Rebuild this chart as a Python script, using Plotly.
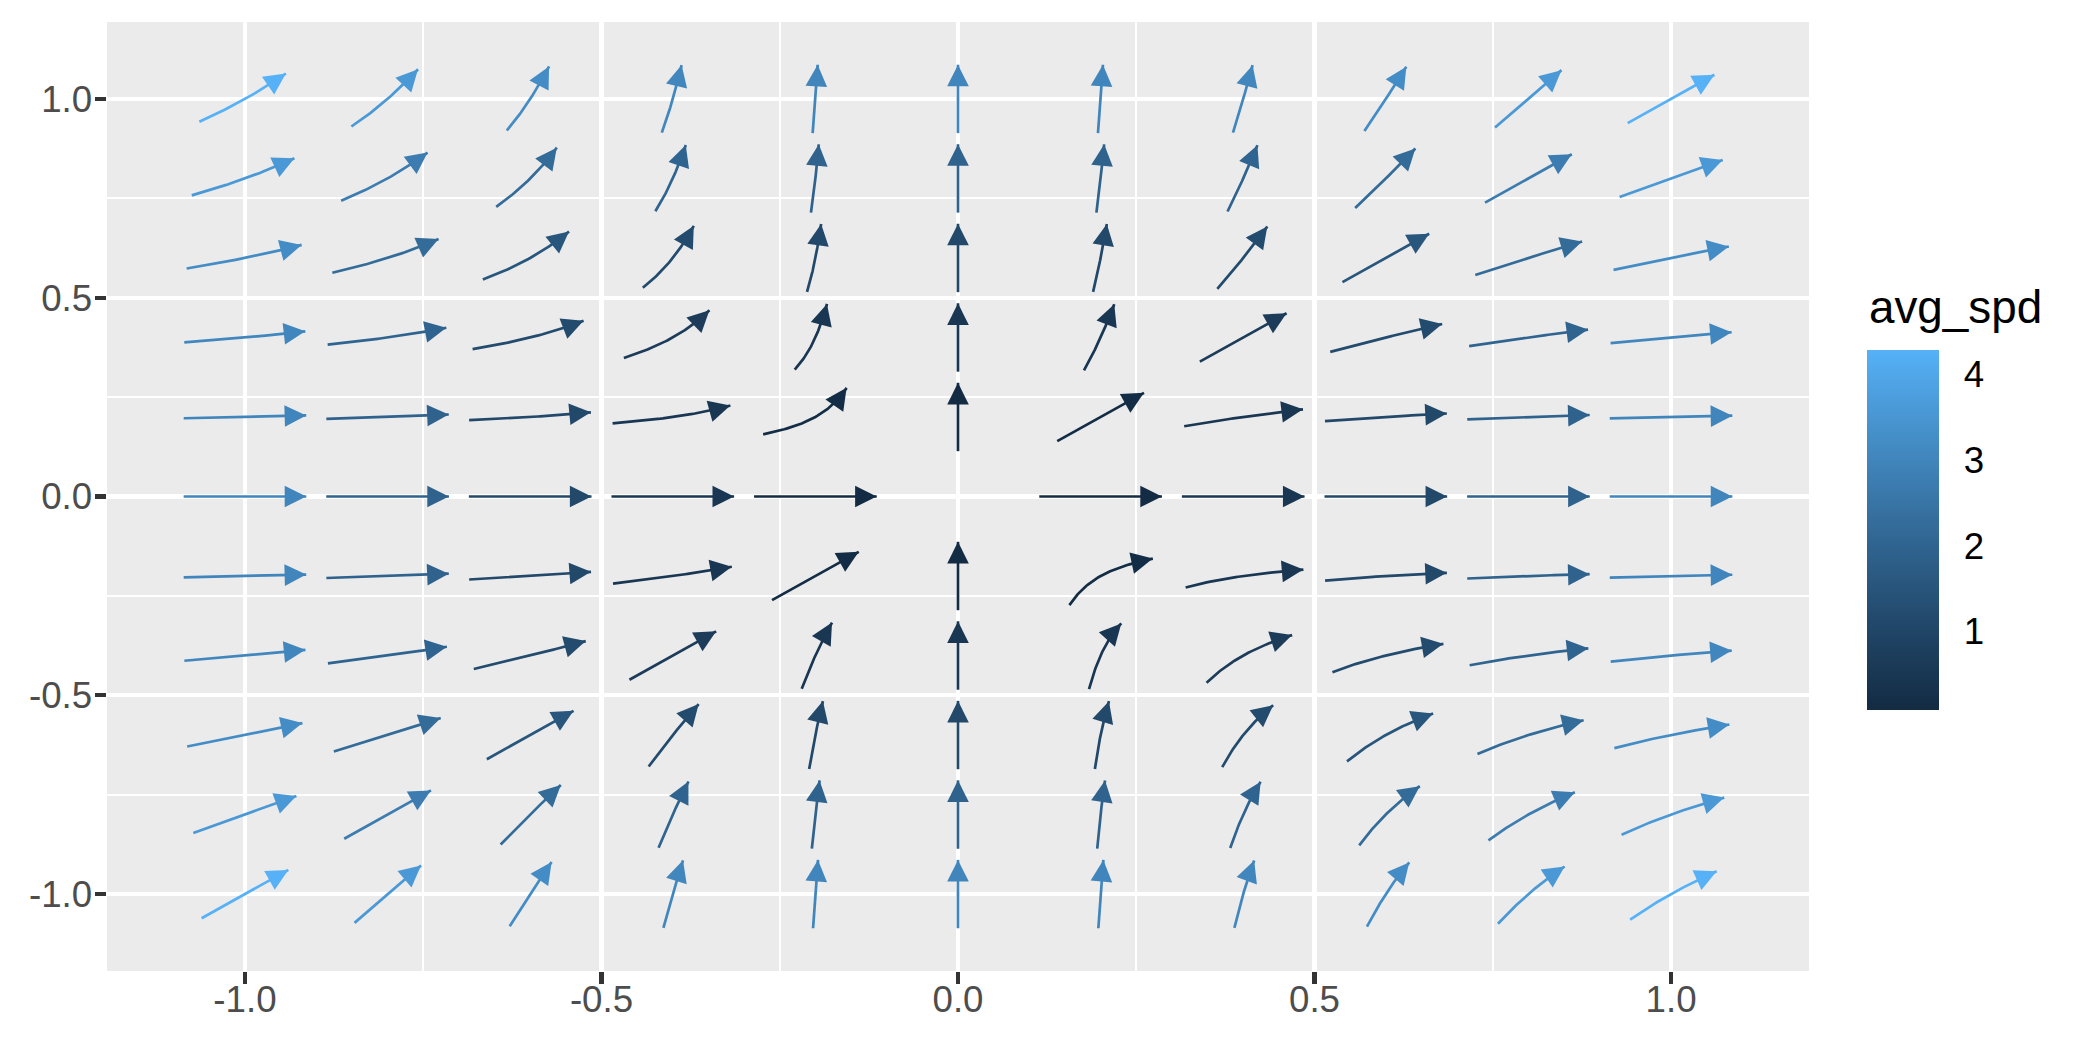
import numpy as np
import plotly.graph_objects as go

# ---------------- data ----------------
x_grid = [-1.0, -0.8, -0.6, -0.4, -0.2, 0.0, 0.2, 0.4, 0.6, 0.8, 1.0]
y_grid = [-1.0, -0.8, -0.6, -0.4, -0.2, 0.0, 0.2, 0.4, 0.6, 0.8, 1.0]
# vector field components on the grid (u varies with x only, v with y only)
u_by_x = [1.0, 0.64, 0.36, 0.16, 0.04, 0.0, 0.04, 0.16, 0.36, 0.64, 1.0]
v_by_y = [1.0, 0.64, 0.36, 0.16, 0.04, 0.0, 0.04, 0.16, 0.36, 0.64, 1.0]
# avg_spd per arrow, rows from y = 1.0 (top) to y = -1.0 (bottom), columns x = -1.0 .. 1.0
avg_spd_rows = [
    [4.28, 3.58, 3.20, 3.05, 3.01, 3.00, 3.01, 3.05, 3.20, 3.58, 4.28],
    [3.58, 2.73, 2.21, 1.99, 1.93, 1.92, 1.93, 1.99, 2.21, 2.73, 3.58],
    [3.20, 2.21, 1.53, 1.19, 1.09, 1.08, 1.09, 1.19, 1.53, 2.21, 3.20],
    [3.05, 1.99, 1.19, 0.68, 0.50, 0.48, 0.50, 0.68, 1.19, 1.99, 3.05],
    [3.01, 1.93, 1.09, 0.50, 0.17, 0.085, 0.17, 0.50, 1.09, 1.93, 3.01],
    [3.00, 1.92, 1.08, 0.48, 0.085, None, 0.085, 0.48, 1.08, 1.92, 3.00],
    [3.01, 1.93, 1.09, 0.50, 0.17, 0.085, 0.17, 0.50, 1.09, 1.93, 3.01],
    [3.05, 1.99, 1.19, 0.68, 0.50, 0.48, 0.50, 0.68, 1.19, 1.99, 3.05],
    [3.20, 2.21, 1.53, 1.19, 1.09, 1.08, 1.09, 1.19, 1.53, 2.21, 3.20],
    [3.58, 2.73, 2.21, 1.99, 1.93, 1.92, 1.93, 1.99, 2.21, 2.73, 3.58],
    [4.28, 3.58, 3.20, 3.05, 3.01, 3.00, 3.01, 3.05, 3.20, 3.58, 4.28],
]
axis_tick_vals = [-1.0, -0.5, 0.0, 0.5, 1.0]
axis_tick_text = ["-1.0", "-0.5", "0.0", "0.5", "1.0"]
legend_tick_vals = [1, 2, 3, 4]
legend_title = "avg_spd"

# ---------------- styling helpers ----------------
LOW, HIGH = "#132B43", "#56B1F7"


def hex2rgb(h):
    h = h.lstrip("#")
    return np.array([int(h[i:i + 2], 16) / 255 for i in (0, 2, 4)])


M = np.array([[0.4124564, 0.3575761, 0.1804375],
              [0.2126729, 0.7151522, 0.0721750],
              [0.0193339, 0.1191920, 0.9503041]])
WHITE = np.array([0.95047, 1.0, 1.08883])


def rgb2lab(c):
    lin = np.where(c <= 0.04045, c / 12.92, ((c + 0.055) / 1.055) ** 2.4)
    xyz = M @ lin / WHITE
    d = 6 / 29
    f = np.where(xyz > d ** 3, np.cbrt(xyz), xyz / (3 * d * d) + 4 / 29)
    return np.array([116 * f[1] - 16, 500 * (f[0] - f[1]), 200 * (f[1] - f[2])])


def lab2rgb(lab):
    L, a, b = lab
    fy = (L + 16) / 116
    fx = fy + a / 500
    fz = fy - b / 200
    d = 6 / 29
    f = np.array([fx, fy, fz])
    xyz = np.where(f > d, f ** 3, 3 * d * d * (f - 4 / 29)) * WHITE
    lin = np.linalg.solve(M, xyz)
    lin = np.clip(lin, 0, 1)
    c = np.where(lin <= 0.0031308, 12.92 * lin, 1.055 * lin ** (1 / 2.4) - 0.055)
    c = np.clip(c, 0, 1)
    return "#%02X%02X%02X" % tuple(int(round(v * 255)) for v in c)


LAB_LO, LAB_HI = rgb2lab(hex2rgb(LOW)), rgb2lab(hex2rgb(HIGH))


def ramp(t):
    return lab2rgb(LAB_LO + (LAB_HI - LAB_LO) * t)


vals = [v for row in avg_spd_rows for v in row if v is not None]
cmin, cmax = min(vals), max(vals)
colorscale = [[i / 20, ramp(i / 20)] for i in range(21)]


def interp_ext(q, xp, fp):
    if q < xp[0]:
        return fp[0] + (q - xp[0]) * (fp[1] - fp[0]) / (xp[1] - xp[0])
    if q > xp[-1]:
        return fp[-1] + (q - xp[-1]) * (fp[-1] - fp[-2]) / (xp[-1] - xp[-2])
    return float(np.interp(q, xp, fp))


def direction(p, sign):
    u = interp_ext(p[0], x_grid, u_by_x)
    v = interp_ext(p[1], y_grid, v_by_y)
    n = np.hypot(u, v)
    if n == 0:
        return np.zeros(2)
    return sign * np.array([u, v]) / n


HALF_LEN = 0.086
NSTEP = 24


def trace_half(p0, sign):
    ds = HALF_LEN / NSTEP
    pts = [np.array(p0, float)]
    p = np.array(p0, float)
    for _ in range(NSTEP):
        k1 = direction(p, sign)
        k2 = direction(p + 0.5 * ds * k1, sign)
        k3 = direction(p + 0.5 * ds * k2, sign)
        k4 = direction(p + ds * k3, sign)
        p = p + ds * (k1 + 2 * k2 + 2 * k3 + k4) / 6
        pts.append(p.copy())
    return pts


# ---------------- geometry of the page ----------------
W, H = 2100, 1050
PLOT_L, PLOT_R, PLOT_T, PLOT_B = 107, 1809, 22, 971
AX_RANGE = [-1.1935, 1.1935]
PX_PER_X = (PLOT_R - PLOT_L) / (AX_RANGE[1] - AX_RANGE[0])
PX_PER_Y = (PLOT_B - PLOT_T) / (AX_RANGE[1] - AX_RANGE[0])
HEAD_TAIL_PX = 20

fig = go.Figure()
annotations = []
LW = 2.7
n_rows = len(y_grid)
for ri, row in enumerate(avg_spd_rows):
    yv = y_grid[n_rows - 1 - ri]
    for ci, val in enumerate(row):
        xv = x_grid[ci]
        if val is None:
            continue
        back = trace_half((xv, yv), -1)[::-1]
        fwd = trace_half((xv, yv), 1)[1:]
        path = np.array(back + fwd)
        col = ramp((val - cmin) / (cmax - cmin))
        fig.add_trace(go.Scatter(x=path[:, 0], y=path[:, 1], mode="lines",
                                 line=dict(color=col, width=LW),
                                 showlegend=False, hoverinfo="skip"))
        # arrow head direction: tangent at the end of the streamline, in screen pixels
        dxp = (path[-1, 0] - path[-3, 0]) * PX_PER_X
        dyp = (path[-1, 1] - path[-3, 1]) * PX_PER_Y
        nrm = np.hypot(dxp, dyp)
        annotations.append(dict(x=path[-1, 0], y=path[-1, 1],
                                ax=-HEAD_TAIL_PX * dxp / nrm, ay=HEAD_TAIL_PX * dyp / nrm,
                                xref="x", yref="y", axref="pixel", ayref="pixel", text="",
                                font=dict(size=1), borderpad=0, borderwidth=0,
                                showarrow=True, arrowhead=2, arrowsize=1.6, arrowwidth=LW,
                                arrowcolor=col, standoff=0))

# colorbar carrier
BAR_L, BAR_W, BAR_TOP, BAR_H = 1878, 72, 350, 360
BAR_SHIFT = -11
px2x = lambda px: (px - PLOT_L) / (PLOT_R - PLOT_L)
px2y = lambda py: (PLOT_B - py) / (PLOT_B - PLOT_T)

fig.add_trace(go.Scatter(
    x=[0, 0], y=[0, 0], mode="markers",
    marker=dict(size=0.1, opacity=0, color=[cmin, cmax], colorscale=colorscale,
                cmin=cmin, cmax=cmax, showscale=True,
                colorbar=dict(
                    thickness=BAR_W, thicknessmode="pixels",
                    len=BAR_H, lenmode="pixels",
                    x=px2x(BAR_L + BAR_SHIFT), xanchor="left", xref="paper",
                    y=px2y(BAR_TOP + BAR_H / 2), yanchor="middle", yref="paper",
                    xpad=0, ypad=0, outlinewidth=0,
                    tickmode="array", tickvals=legend_tick_vals,
                    ticktext=[str(v) for v in legend_tick_vals],
                    ticks="outside", ticklen=18, tickwidth=1, tickcolor="rgba(0,0,0,0)",
                    tickfont=dict(size=36.7, color="black"),
                )),
    showlegend=False, hoverinfo="skip"))

shapes = []
for t in legend_tick_vals:
    py = BAR_TOP + BAR_H - (t - cmin) / (cmax - cmin) * BAR_H
    for (a, b) in ((BAR_L, BAR_L + 14), (BAR_L + BAR_W - 14, BAR_L + BAR_W)):
        shapes.append(dict(type="line", xref="paper", yref="paper",
                           x0=px2x(a), x1=px2x(b), y0=px2y(py), y1=px2y(py),
                           line=dict(color="white", width=1.5), layer="above"))

annotations.append(dict(text=legend_title, xref="paper", yref="paper",
                        x=px2x(BAR_L - 11), y=px2y(335), xanchor="left", yanchor="bottom",
                        showarrow=False, font=dict(size=45.8, color="black")))

axis_common = dict(
    range=AX_RANGE, tickmode="array", tickvals=axis_tick_vals, ticktext=axis_tick_text,
    showgrid=True, gridcolor="white", gridwidth=4.4, zeroline=False, showline=False,
    ticks="outside", ticklen=11.5, tickwidth=4.4, tickcolor="#333333",
    tickfont=dict(size=36.7, color="#4D4D4D"),
    minor=dict(tickmode="array", tickvals=[-0.75, -0.25, 0.25, 0.75], showgrid=True,
               gridcolor="white", gridwidth=2.2, ticks=""),
    fixedrange=True,
)
fig.update_xaxes(**axis_common, ticklabelstandoff=-16)
fig.update_yaxes(**axis_common, ticklabelstandoff=-5)
fig.update_layout(
    width=W, height=H,
    margin=dict(l=PLOT_L, r=W - PLOT_R, t=PLOT_T, b=H - PLOT_B, autoexpand=False),
    paper_bgcolor="white", plot_bgcolor="#EBEBEB",
    font=dict(family="Liberation Sans, Arial, sans-serif"),
    annotations=annotations, shapes=shapes,
)
fig.write_html("out.html", config={"displayModeBar": False, "staticPlot": True},
               post_script="document.body.style.margin='0';document.body.style.overflow='hidden';")
